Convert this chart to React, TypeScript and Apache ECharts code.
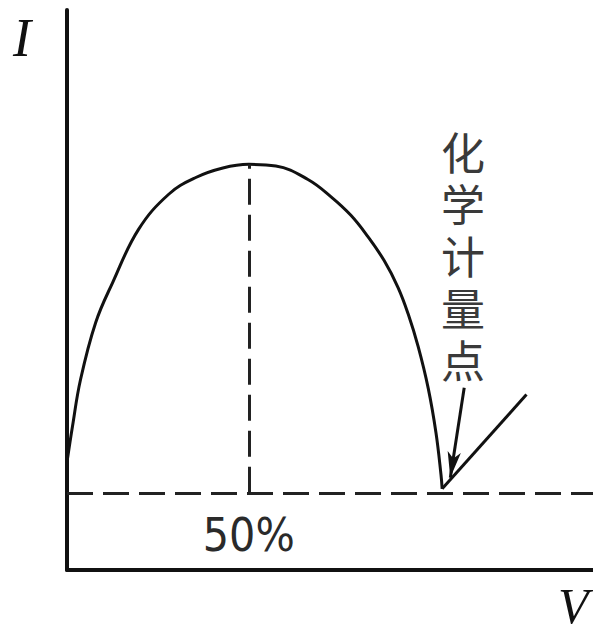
import React, { useEffect, useRef } from "react";
import * as echarts from "echarts";

// Conductometric titration curve: current I vs. titrant volume V (% of equivalence)
const titrantPct = [3.1, 4.4, 6.5, 10.4, 14.8, 21.5, 29.3, 36.3, 43.3, 50, 57.0, 65.3, 71.2, 76.4, 80.8, 85.0, 88.6, 91.2, 93.8, 96.4, 98.4, 99.7, 100];
const currentI = [10.1, 20.1, 34.5, 51.8, 64.0, 80.2, 90.9, 96.0, 98.9, 100, 99.5, 95.4, 90.2, 84.5, 78.0, 70.7, 62.5, 54.5, 44.5, 31.8, 18.3, 5.5, 1.2];

// Straight rise after the stoichiometric point
const excessPct = [100, 121.8];
const excessI = [1.2, 29.9];

// Half-titration marker
const halfPct = 50;
const peakI = 100;
const halfLabel = "50%";

// Pointer toward the stoichiometric point
const arrowFrom = [105.7, 32.0];
const arrowTo = [102.1, 4.6];
const pointLabel = ["化", "学", "计", "量", "点"];

const INK = "#111";
const DASH = [26, 10];

export default function App() {
  const ref = useRef<HTMLDivElement>(null);

  useEffect(() => {
    if (!ref.current) return;
    const chart = echarts.init(ref.current, undefined, { renderer: "svg" });

    const curve = titrantPct.map((x, i) => [x, currentI[i]]);
    const excess = excessPct.map((x, i) => [x, excessI[i]]);

    const axisBase = {
      type: "value",
      axisLine: { show: true, onZero: false, lineStyle: { color: INK, width: 4 } },
      axisTick: { show: false },
      axisLabel: { show: false },
      splitLine: { show: false },
    };

    chart.setOption({
      animation: false,
      backgroundColor: "#fff",
      grid: { left: 67, right: 0, top: 10, bottom: 58, containLabel: false },
      xAxis: { ...axisBase, min: 3, max: 139 },
      yAxis: { ...axisBase, min: -23.5, max: 147 },
      series: [
        {
          type: "line",
          data: curve,
          smooth: 0.4,
          symbol: "none",
          lineStyle: { color: INK, width: 3 },
          markLine: {
            silent: true,
            symbol: "none",
            animation: false,
            data: [
              {
                yAxis: 0,
                lineStyle: { color: "#222", width: 3, type: DASH },
                label: { show: false },
              },
              [
                {
                  coord: [halfPct, 0],
                  lineStyle: { color: "#222", width: 3, type: DASH },
                  label: {
                    show: true,
                    position: "start",
                    formatter: halfLabel,
                    fontFamily: "DejaVu Sans Condensed, DejaVu Sans",
                    fontSize: 46,
                    color: "#2a2a2a",
                    distance: 19,
                  },
                },
                { coord: [halfPct, peakI] },
              ],
              [
                {
                  coord: arrowFrom,
                  symbol: "none",
                  lineStyle: { color: INK, width: 3, type: "solid" },
                  label: { show: false },
                },
                { coord: arrowTo, symbol: "arrow", symbolSize: [10, 26] },
              ],
            ],
          },
        },
        {
          type: "line",
          data: excess,
          symbol: "none",
          lineStyle: { color: INK, width: 3 },
        },
      ],
      graphic: [
        {
          type: "text",
          left: 13,
          top: 11,
          style: {
            text: "I",
            fontFamily: "Liberation Serif",
            fontStyle: "italic",
            fontSize: 54,
            fill: INK,
          },
        },
        {
          type: "text",
          left: 558,
          top: 581,
          style: {
            text: "V",
            fontFamily: "Liberation Serif",
            fontStyle: "italic",
            fontSize: 50,
            lineHeight: 46,
            fill: INK,
          },
        },
        ...pointLabel.map((ch, i) => ({
          type: "text",
          left: 441,
          top: 128 + i * 52,
          style: {
            text: ch,
            fontFamily: "Noto Sans CJK SC",
            fontSize: 44,
            lineHeight: 46,
            fill: "#3a3a3a",
          },
        })),
      ],
    });

    return () => chart.dispose();
  }, []);

  return (
    <div
      ref={ref}
      style={{ position: "absolute", left: 0, top: 0, width: 593, height: 628 }}
    />
  );
}
